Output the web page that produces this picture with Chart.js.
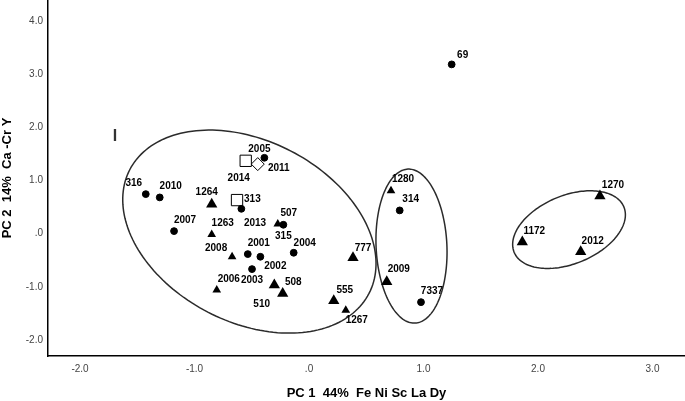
<!DOCTYPE html>
<html>
<head>
<meta charset="utf-8">
<script src="https://cdn.jsdelivr.net/npm/chart.js@4.4.1/dist/chart.umd.min.js"></script>
<style>
  html, body { margin: 0; padding: 0; background: #fff; }
  canvas { display: block; }
</style>
</head>
<body>
<canvas id="pcaChart" width="685" height="401"></canvas>
<script>
// PC scores, one set of arrays per marker shape
var circleLabels = ['69', '316', '2010', '2005', '313', '315', '2007', '2001', '2002', '2004', '2003', '314', '7337'];
var circleX = [1.246, -1.426, -1.304, -0.390, -0.591, -0.224, -1.179, -0.535, -0.425, -0.134, -0.498, 0.792, 0.978];
var circleY = [3.180, 0.742, 0.680, 1.425, 0.466, 0.166, 0.047, -0.385, -0.435, -0.360, -0.667, 0.436, -1.288];

var triangleLabels = ['1264', '507', '1263', '2008', '2006', '508', '510', '777', '555', '1267', '1280', '2009', '1270', '1172', '2012'];
var triangleX = [-0.850, -0.273, -0.850, -0.672, -0.806, -0.303, -0.230, 0.384, 0.216, 0.321, 0.716, 0.679, 2.541, 1.863, 2.373];
var triangleY = [0.554, 0.180, -0.016, -0.435, -1.060, -0.968, -1.125, -0.454, -1.263, -1.438, 0.805, -0.905, 0.705, -0.160, -0.342];

var squareLabels = ['2014', '2013'];
var squareX = [-0.553, -0.629];
var squareY = [1.368, 0.630];

var diamondLabels = ['2011'];
var diamondX = [-0.448];
var diamondY = [1.306];

var xTicks = [-2, -1, 0, 1, 2, 3];
var xTickLabels = ['-2.0', '-1.0', '.0', '1.0', '2.0', '3.0'];
var yTicks = [-2, -1, 0, 1, 2, 3, 4];
var yTickLabels = ['-2.0', '-1.0', '.0', '1.0', '2.0', '3.0', '4.0'];

// group outlines: centre and two semi-axes, in PC units
var groupOutlines = [
  {cx: -0.521, cy: 0.038, ax: 1.045, ay: -1.162, bx: -0.363, by: -1.513},
  {cx: 0.895, cy: -0.235, ax: 0.031, ay: -1.447, bx: 0.309, by: 0.030},
  {cx: 2.271, cy: 0.075, ax: 0.479, ay: 0.427, bx: 0.114, by: -0.592}
];
var groupMark = {text: 'I', x: -1.694, y: 1.83};

// styling
var FONT = '"Liberation Sans", Arial, sans-serif';
var smallTriangles = ['1263', '2008', '2006', '1267', '1280', '507'];
// label offsets in px from the marker centre (default 11, -11)
var labelOffsets = {
  '316': [-12, -11], '2005': [-5, -9], '2011': [21, 4], '2014': [-7, 17],
  '1264': [-5, -12], '313': [11, -10], '2013': [18, 23], '315': [0, 11],
  '2008': [-16, -9], '2004': [11, -10], '2002': [15, 9], '2003': [0, 11],
  '2006': [12, -11], '508': [19, -3], '510': [-21, 11], '777': [10, -10],
  '1267': [11, 10], '1280': [12, -12], '2009': [12, -13], '1270': [13, -11],
  '1172': [12, -11], '2012': [12, -11], '69': [11, -9]
};

function toPoints(xs, ys) {
  return xs.map(function (x, i) { return {x: x, y: ys[i]}; });
}

var outlinePlugin = {
  id: 'outlines',
  beforeDatasetsDraw: function (chart) {
    var ctx = chart.ctx, xs = chart.scales.x, ys = chart.scales.y;
    ctx.save();
    ctx.strokeStyle = '#2b2b2b';
    ctx.lineWidth = 1.5;
    groupOutlines.forEach(function (e) {
      ctx.beginPath();
      for (var i = 0; i <= 180; i++) {
        var t = i / 180 * Math.PI * 2;
        var vx = e.cx + e.ax * Math.cos(t) + e.bx * Math.sin(t);
        var vy = e.cy + e.ay * Math.cos(t) + e.by * Math.sin(t);
        var px = xs.getPixelForValue(vx), py = ys.getPixelForValue(vy);
        if (i === 0) ctx.moveTo(px, py); else ctx.lineTo(px, py);
      }
      ctx.closePath();
      ctx.stroke();
    });
    ctx.fillStyle = '#333';
    ctx.font = 'bold 16px ' + FONT;
    ctx.textAlign = 'center';
    ctx.textBaseline = 'middle';
    ctx.fillText(groupMark.text, xs.getPixelForValue(groupMark.x), ys.getPixelForValue(groupMark.y));
    ctx.restore();
  },
  afterDatasetsDraw: function (chart) {
    var ctx = chart.ctx;
    ctx.save();
    ctx.fillStyle = '#000';
    ctx.font = 'bold 10px ' + FONT;
    ctx.textAlign = 'center';
    ctx.textBaseline = 'middle';
    chart.data.datasets.forEach(function (ds, di) {
      var meta = chart.getDatasetMeta(di);
      meta.data.forEach(function (pt, i) {
        var name = ds.pointNames[i];
        var off = labelOffsets[name] || [11, -11];
        ctx.fillText(name, pt.x + off[0], pt.y + off[1]);
      });
    });
    ctx.restore();
  }
};

var ctx = document.getElementById('pcaChart');
var chart = new Chart(ctx, {
  type: 'scatter',
  data: {
    datasets: [
      {
        pointNames: circleLabels,
        data: toPoints(circleX, circleY),
        pointStyle: 'circle',
        pointRadius: 3.4,
        backgroundColor: '#000',
        borderColor: '#000',
        borderWidth: 1
      },
      {
        pointNames: triangleLabels,
        data: toPoints(triangleX, triangleY),
        pointStyle: 'triangle',
        pointRadius: triangleLabels.map(function (n) { return smallTriangles.indexOf(n) >= 0 ? 5 : 6.5; }),
        backgroundColor: '#000',
        borderColor: '#000',
        borderWidth: 0
      },
      {
        pointNames: squareLabels,
        data: toPoints(squareX, squareY),
        pointStyle: 'rect',
        pointRadius: 8,
        backgroundColor: '#fff',
        borderColor: '#000',
        borderWidth: 1
      },
      {
        pointNames: diamondLabels,
        data: toPoints(diamondX, diamondY),
        pointStyle: 'rectRot',
        pointRadius: 6.5,
        backgroundColor: '#fff',
        borderColor: '#000',
        borderWidth: 1
      }
    ]
  },
  options: {
    responsive: false,
    devicePixelRatio: 1,
    animation: false,
    layout: {padding: 0, autoPadding: false},
    plugins: {legend: {display: false}, tooltip: {enabled: false}},
    scales: {
      x: {
        type: 'linear',
        min: -2.28,
        max: 3.284,
        afterBuildTicks: function (axis) { axis.ticks = xTicks.map(function (v) { return {value: v}; }); },
        afterFit: function (axis) { axis.height = 45; axis.paddingLeft = 0; axis.paddingRight = 0; },
        grid: {drawOnChartArea: false, drawTicks: false},
        border: {color: '#000', width: 1.5},
        ticks: {
          padding: 7, color: '#444', maxRotation: 0, autoSkip: false,
          font: {family: FONT, size: 10},
          callback: function (v) { var i = xTicks.indexOf(v); return i < 0 ? '' : xTickLabels[i]; }
        },
        title: {
          display: true, text: 'PC 1  44%  Fe Ni Sc La Dy', color: '#000',
          font: {family: FONT, size: 13, weight: 'bold'}, padding: {top: 0, bottom: 0}
        }
      },
      y: {
        type: 'linear',
        min: -2.30,
        max: 4.39,
        afterBuildTicks: function (axis) { axis.ticks = yTicks.map(function (v) { return {value: v}; }); },
        afterFit: function (axis) { axis.width = 48; axis.paddingTop = 0; axis.paddingBottom = 0; },
        grid: {drawOnChartArea: false, drawTicks: false},
        border: {color: '#000', width: 1.5},
        ticks: {
          padding: 5, color: '#444', autoSkip: false,
          font: {family: FONT, size: 10},
          callback: function (v) { var i = yTicks.indexOf(v); return i < 0 ? '' : yTickLabels[i]; }
        },
        title: {
          display: true, text: 'PC 2  14%  Ca -Cr Y', color: '#000',
          font: {family: FONT, size: 13, weight: 'bold'}, padding: {top: 0, bottom: 0}
        }
      }
    }
  },
  plugins: [outlinePlugin]
});
</script>
</body>
</html>
